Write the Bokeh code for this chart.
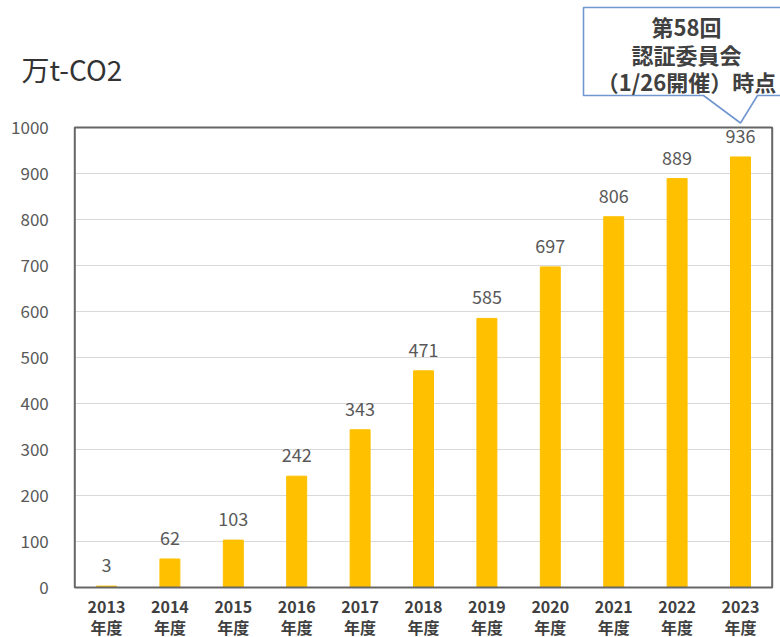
from bokeh.plotting import figure
from bokeh.models import ColumnDataSource, Range1d, FixedTicker, BoxAnnotation
from bokeh.core.properties import value
from bokeh.embed import file_html
from bokeh.resources import INLINE

years = ["2013", "2014", "2015", "2016", "2017", "2018", "2019", "2020", "2021", "2022", "2023"]
suffix = "年度"
amounts = [3, 62, 103, 242, 343, 471, 585, 697, 806, 889, 936]
y_ticks = [0, 100, 200, 300, 400, 500, 600, 700, 800, 900, 1000]
unit_label = "万t-CO2"
callout_lines = ["第58回", "認証委員会", "（1/26開催）時点"]

FONT = "Noto Sans CJK JP"
GRAY = "#595959"
DARK = "#404040"

W, H = 780, 637
# layout geometry (pixels): plot box 74.3..771.7 wide, value 1000 at y=127, 0 at y=587
PX_PER_CAT = 63.40
PX_PER_UNIT = 0.46
X0 = -0.5 - 74.3 / PX_PER_CAT
X1 = X0 + W / PX_PER_CAT
Y1 = 1000 + 127 / PX_PER_UNIT
Y0 = Y1 - H / PX_PER_UNIT


def px2x(px):
    return X0 + px / PX_PER_CAT


def py2y(py):
    return Y1 - py / PX_PER_UNIT


n = len(years)
pos = list(range(n))
labels = {i: f"{years[i]}\n{suffix}" for i in pos}
src = ColumnDataSource(dict(x=pos, y=amounts, t=[str(a) for a in amounts]))

p = figure(width=W, height=H, x_range=Range1d(X0, X1), y_range=Range1d(Y0, Y1),
           output_backend="svg", toolbar_location=None, min_border=0)
p.outline_line_color = None
p.xgrid.visible = False
p.ygrid.visible = False

# horizontal gridlines inside the plot box
p.segment(x0=[-0.5] * len(y_ticks), x1=[n - 0.5] * len(y_ticks), y0=y_ticks, y1=y_ticks,
          line_color="#d9d9d9", line_width=1)

p.vbar(x="x", top="y", width=0.315, source=src, color="#FFC000")
p.text(x="x", y="y", text="t", source=src, text_align="center", text_baseline="middle",
       y_offset=-21, text_font=value(FONT), text_font_size="18px", text_color=GRAY)

# axes drawn at fixed locations along the plot box
yax = p.yaxis[0]
yax.fixed_location = -0.5
yax.ticker = FixedTicker(ticks=y_ticks)
yax.major_label_standoff = 20
yax.major_label_text_font_size = "17px"

xax = p.xaxis[0]
xax.fixed_location = 0
xax.ticker = FixedTicker(ticks=pos)
xax.major_label_overrides = labels
xax.major_label_standoff = 0
xax.major_label_text_font_size = "16px"
xax.major_label_text_font_style = "bold"
xax.major_label_text_line_height = 0.88
for ax in (xax, yax):
    ax.axis_line_color = None
    ax.major_tick_line_color = None
    ax.minor_tick_line_color = None
    ax.major_label_text_font = FONT
    ax.major_label_text_color = GRAY
xax.major_label_text_color = DARK

# plot-area frame
p.add_layout(BoxAnnotation(left=-0.5, right=n - 0.5, bottom=0, top=1000, fill_color=None,
                           fill_alpha=0, line_color="#666666", line_alpha=1, line_width=2))

# unit label
p.text(x=[px2x(21)], y=[py2y(68)], text=[unit_label], text_baseline="middle",
       text_align="left", text_font=value(FONT), text_font_size="28px", text_color="#333333")

# callout
cx = [583, 800, 800, 757, 740, 703, 583]
cy = [7, 7, 95, 95, 122.5, 95, 95]
p.patch(x=[px2x(v) for v in cx], y=[py2y(v) for v in cy],
        fill_color="white", line_color="#7096d0", line_width=1.6)
p.text(x=[px2x(686)] * 3, y=[py2y(v) for v in (25, 53, 80)], text=callout_lines,
       text_align="center", text_baseline="middle", text_font=value(FONT),
       text_font_size="22px", text_font_style="bold", text_color=DARK)

open("out.html", "w").write(file_html(p, INLINE))
